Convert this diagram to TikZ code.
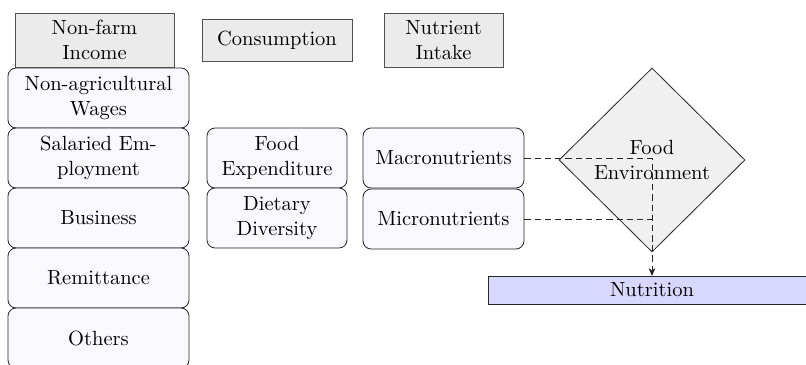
\documentclass[tikz,border=0pt]{standalone}
\usetikzlibrary{shapes.geometric,arrows.meta}
\definecolor{hdrfill}{RGB}{235,235,235}
\definecolor{hdrdraw}{RGB}{80,80,80}
\definecolor{boxfill}{RGB}{249,249,255}
\definecolor{dmdfill}{RGB}{240,240,240}
\definecolor{nutfill}{RGB}{216,216,255}
\begin{document}
\begin{tikzpicture}[x=0.4876pt,y=-0.4876pt,
  hdr/.style={draw=hdrdraw,fill=hdrfill,align=center,inner sep=0pt},
  rbox/.style={draw=black!85,fill=boxfill,rounded corners=4pt,align=center,inner sep=0pt,minimum height=29.3pt},
  flow/.style={dash pattern=on 3pt off 2pt,line width=0.4pt,draw=black!85,-{Stealth[length=3.5pt,width=3pt]}}]
\useasboundingbox (0,0) rectangle (806,364);
% header boxes
\node[hdr,minimum width=77.5pt,minimum height=26.3pt] (nonfarm) at (94.5,40) {Non-farm\\Income};
\node[hdr,minimum width=73.1pt,minimum height=20.5pt] (cons) at (277,40) {Consumption};
\node[hdr,minimum width=58pt,minimum height=26.3pt] (intake) at (443.5,40) {Nutrient\\Intake};
% left column
\node[rbox,minimum width=88.3pt] (wages) at (98.5,98) {Non-agricultural\\Wages};
\node[rbox,minimum width=88.3pt] (salaried) at (98.5,158) {Salaried Em-\\ployment};
\node[rbox,minimum width=88.3pt] (business) at (98.5,218) {Business};
\node[rbox,minimum width=88.3pt] (remit) at (98.5,278) {Remittance};
\node[rbox,minimum width=88.3pt] (others) at (98.5,338) {Others};
% consumption column
\node[rbox,minimum width=68.3pt] (foodexp) at (277,158) {Food\\Expenditure};
\node[rbox,minimum width=68.3pt] (dietdiv) at (277,218) {Dietary\\Diversity};
% intake column
\node[rbox,minimum width=78.5pt] (macro) at (443.5,158) {Macronutrients};
\node[rbox,minimum width=78.5pt] (micro) at (443.5,219) {Micronutrients};
% food environment
\node[diamond,draw=black!85,fill=dmdfill,minimum width=90.7pt,minimum height=89.7pt,inner sep=0pt,aspect=1] (fenvd) at (652,160) {};
\node[align=center,inner sep=0pt] (fenv) at (652,160) {Food\\Environment};
% nutrition
\node[draw=black!85,fill=nutfill,minimum width=160pt,minimum height=13.65pt,inner sep=0pt] (nutrition) at (652,290) {Nutrition};
% connectors
\draw[flow] (macro.east) -| (nutrition.north);
\draw[flow] (micro.east) -| (nutrition.north);
\end{tikzpicture}
\end{document}
